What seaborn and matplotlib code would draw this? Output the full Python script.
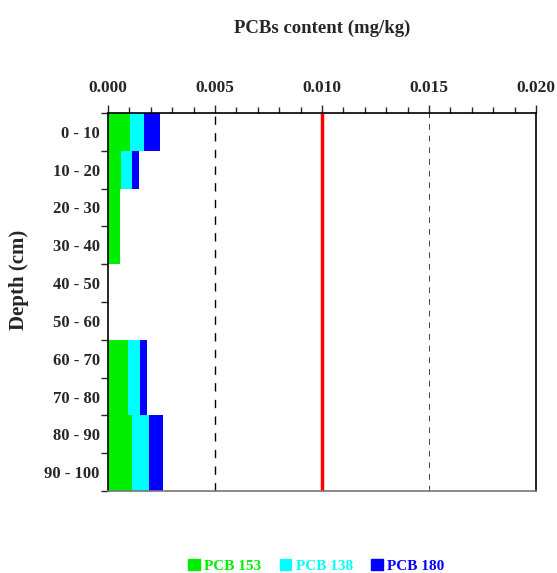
import matplotlib
matplotlib.use("Agg")
import matplotlib.pyplot as plt
import seaborn as sns
import numpy as np
from matplotlib.patches import Patch

# depth layers and PCB content (mg/kg)
depth = ['0 - 10', '10 - 20', '20 - 30', '30 - 40', '40 - 50',
         '50 - 60', '60 - 70', '70 - 80', '80 - 90', '90 - 100']
pcb153 = [0.00103, 0.00060, 0.00056, 0.00056, 0.0, 0.0, 0.00092, 0.00092, 0.00112, 0.00112]
pcb138 = [0.00067, 0.00052, 0.0, 0.0, 0.0, 0.0, 0.00058, 0.00058, 0.00080, 0.00080]
pcb180 = [0.00073, 0.00033, 0.0, 0.0, 0.0, 0.0, 0.00032, 0.00032, 0.00065, 0.00065]
limit = 0.010

sns.set_style('white')
plt.rcParams['font.family'] = ['Liberation Serif', 'DejaVu Serif']
plt.rcParams['font.weight'] = 'bold'

c153, c138, c180 = '#00ee00', '#00ffff', '#0000ff'

s1 = np.array(pcb153)
s2 = s1 + np.array(pcb138)
s3 = s2 + np.array(pcb180)

fig = plt.figure(figsize=(5.57, 5.73), dpi=100)
ax = fig.add_axes([0.1939, 0.1431, 0.7684, 0.6597])

# stacked: draw totals first, then overlay smaller sums
sns.barplot(x=s3, y=depth, orient='h', color=c180, width=1.0, saturation=1, ax=ax, linewidth=0)
sns.barplot(x=s2, y=depth, orient='h', color=c138, width=1.0, saturation=1, ax=ax, linewidth=0)
sns.barplot(x=s1, y=depth, orient='h', color=c153, width=1.0, saturation=1, ax=ax, linewidth=0)

ax.axvline(0.005, color='black', ls=(0, (6, 6)), lw=1.0)
ax.axvline(0.015, color='#444444', ls=(0, (6, 6)), lw=0.7)
ax.axvline(limit, color='red', lw=2.5)

ax.set_xlim(0, 0.020)
ax.set_ylim(9.5, -0.5)
ax.xaxis.tick_top()
ax.xaxis.set_label_position('top')
ax.set_xticks([0.0, 0.005, 0.010, 0.015, 0.020])
ax.set_xticklabels(['0.000', '0.005', '0.010', '0.015', '0.020'])
ax.set_xticks(np.arange(0, 0.0201, 0.001), minor=True)
ax.tick_params(axis='x', which='major', length=6, width=1, direction='out', pad=6,
               labelsize=12.5, top=True, bottom=False)
ax.tick_params(axis='x', which='minor', length=4, width=1, direction='out', top=True, bottom=False)

ax.set_yticks(range(len(depth)))
ax.set_yticklabels(depth)
ax.set_yticks(np.arange(-0.5, 10, 1), minor=True)
ax.tick_params(axis='y', which='major', length=0, pad=6, labelsize=12)
ax.tick_params(axis='y', which='minor', length=5, width=1, direction='out', left=True)

ax.set_xlabel('PCBs content (mg/kg)', fontsize=13.5, fontweight='bold', labelpad=34)
ax.set_ylabel('Depth (cm)', fontsize=15, fontweight='bold')
ax.yaxis.set_label_coords(-0.185, 0.558)

for s in ['top', 'left', 'right']:
    ax.spines[s].set_color('black')
    ax.spines[s].set_linewidth(1.2)
ax.spines['bottom'].set_color('#777777')
ax.spines['bottom'].set_linewidth(1.2)

handles = [Patch(color=c153, label='PCB 153'),
           Patch(color=c138, label='PCB 138'),
           Patch(color=c180, label='PCB 180')]
fig.legend(handles=handles, loc='center', bbox_to_anchor=(0.568, 0.012), ncol=3,
           frameon=False, labelcolor=[c153, c138, c180], handlelength=0.75, handleheight=0.75,
           handletextpad=0.3, columnspacing=1.2, prop={'size': 11, 'weight': 'bold'})

fig.savefig('out.png', dpi=100)
